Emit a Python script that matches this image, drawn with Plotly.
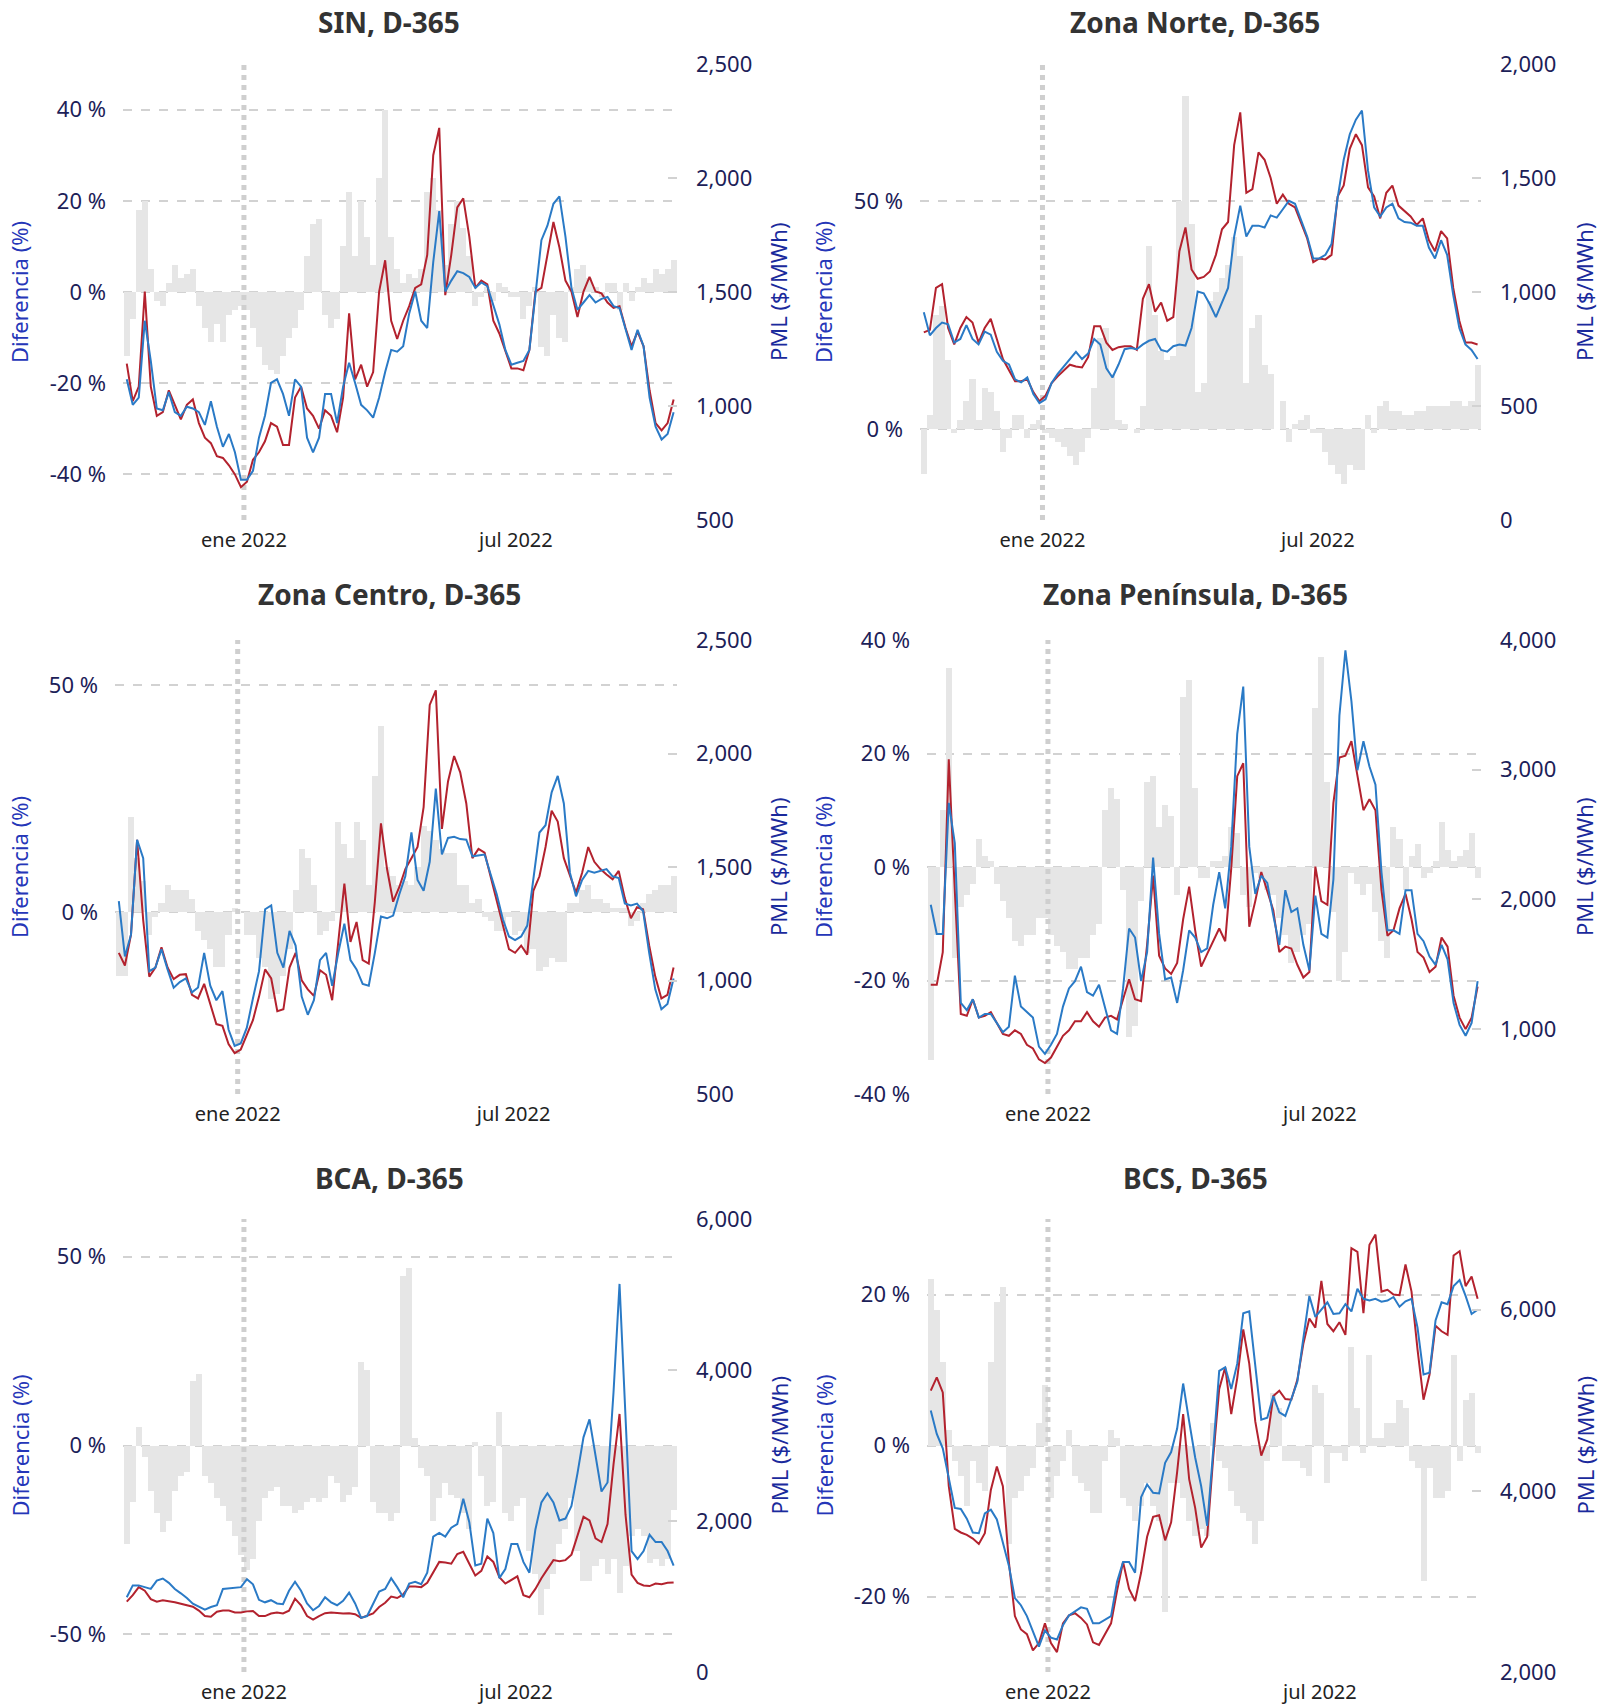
import pandas as pd
import plotly.graph_objects as go

W, H = 1608, 1706

# ---------------- data (4-day sampling) ----------------
dates = pd.date_range("2021-10-15", periods=92, freq="4D")

sin_dif = [-14, -6, 18, 20, 5, -2, -3, 2, 6, 3,
           4, 5, -3, -8, -11, -7, -11, -5, -4, -3,
           -4, -8, -12, -16, -17, -18, -14, -10, -8, -4,
           8, 15, 16, -5, -8, -6, 10, 22, 8, 20,
           12, 6, 25, 40, 12, 5, 2, 4, 3, 5,
           22, 25, 18, 6, 15, 20, 14, 8, -3, -1,
           1, -2, 2, 1, -1, -1, -6, -3, 1, -12,
           -14, -5, -10, -11, 1, 5, 6, 3, 1, -1,
           2, 2, -4, 2, -2, 1, 3, 2, 5, 4,
           5, 7]
sin_pml = [1186, 1021, 1085, 1502, 1085, 957, 973, 1069, 1005, 941,
           1005, 1029, 925, 861, 837, 780, 772, 740, 700, 644,
           668, 764, 797, 845, 925, 909, 829, 829, 1037, 1085,
           989, 957, 901, 981, 957, 885, 1037, 1406, 1117, 1181,
           1085, 1149, 1502, 1639, 1374, 1294, 1374, 1438, 1518, 1534,
           1663, 2100, 2220, 1486, 1663, 1871, 1911, 1743, 1518, 1550,
           1534, 1374, 1318, 1246, 1165, 1165, 1157, 1246, 1502, 1518,
           1663, 1807, 1695, 1550, 1502, 1390, 1502, 1566, 1502, 1494,
           1454, 1430, 1438, 1342, 1262, 1326, 1262, 1069, 925, 893,
           925, 1029]
sin_pml_365 = [1117, 1005, 1037, 1374, 1198, 989, 981, 1061, 973, 957,
               997, 989, 973, 917, 1021, 909, 821, 877, 797, 676,
               676, 716, 861, 957, 1101, 1117, 1053, 957, 1117, 1085,
               861, 797, 861, 1053, 1053, 925, 1085, 1190, 1101, 1005,
               981, 949, 1037, 1149, 1246, 1238, 1262, 1406, 1502, 1374,
               1342, 1631, 1855, 1502, 1550, 1591, 1583, 1566, 1518, 1542,
               1526, 1438, 1358, 1246, 1181, 1190, 1198, 1246, 1502, 1727,
               1791, 1887, 1919, 1743, 1518, 1422, 1454, 1486, 1454, 1470,
               1478, 1438, 1430, 1342, 1246, 1334, 1262, 1037, 909, 853,
               877, 973]

norte_dif = [-10, 3, 25, 27, 15, -1, 2, 6, 11, 2,
             9, 8, 4, -5, -2, 3, 3, -2, 1, 2,
             -1, -2, -3, -4, -6, -8, -5, -2, 9, 20,
             22, 12, 2, 1, 0, -1, 5, 40, 25, 17,
             15, 16, 50, 73, 45, 8, 10, 28, 30, 33,
             36, 42, 38, 10, 22, 25, 14, 12, 0, 6,
             -3, 1, 2, 3, -1, -1, -5, -8, -10, -12,
             -8, -9, -9, 3, -1, 5, 6, 4, 4, 3,
             3, 4, 4, 5, 5, 5, 5, 6, 6, 5,
             6, 14]
norte_pml = [823, 834, 1018, 1034, 842, 770, 842, 890, 866, 778,
             842, 882, 794, 706, 657, 609, 609, 617, 561, 521,
             545, 601, 630, 657, 681, 673, 669, 714, 850, 850,
             778, 746, 758, 762, 762, 746, 970, 1034, 914, 954,
             874, 890, 1179, 1283, 1099, 1058, 1066, 1090, 1163, 1275,
             1307, 1644, 1788, 1435, 1451, 1612, 1580, 1500, 1387, 1427,
             1387, 1371, 1307, 1235, 1131, 1147, 1143, 1163, 1419, 1467,
             1628, 1692, 1644, 1459, 1419, 1323, 1435, 1467, 1379, 1355,
             1331, 1294, 1323, 1227, 1179, 1267, 1235, 1018, 874, 778,
             778, 770]
norte_pml_365 = [911, 810, 842, 866, 858, 778, 794, 855, 794, 770,
                 826, 813, 738, 698, 682, 617, 604, 625, 553, 513,
                 529, 601, 641, 673, 706, 738, 706, 730, 794, 770,
                 665, 625, 682, 749, 754, 749, 770, 786, 794, 746,
                 738, 762, 770, 765, 842, 1002, 994, 946, 890, 954,
                 1018, 1243, 1379, 1243, 1291, 1291, 1283, 1336, 1326, 1363,
                 1400, 1387, 1315, 1243, 1147, 1147, 1163, 1211, 1411, 1580,
                 1692, 1756, 1796, 1532, 1371, 1331, 1371, 1387, 1323, 1307,
                 1304, 1291, 1291, 1195, 1147, 1227, 1163, 986, 842, 770,
                 746, 706]

centro_dif = [-14, -14, 21, 12, 7, -5, -1, 2, 6, 5,
              5, 5, 3, -4, -6, -8, -12, -12, -5, 1,
              0, -5, -5, -10, -12, -19, -18, -14, -8, 5,
              14, 12, 6, -5, -4, -2, 20, 15, 12, 20,
              16, 6, 30, 41, 10, 8, 6, 7, 6, 10,
              19, 18, 16, 14, 13, 13, 6, 6, 2, 3,
              -1, -2, -4, -4, -1, -5, -4, -9, -8, -13,
              -12, -10, -11, -11, 2, 2, 5, 6, 3, 3,
              2, 1, 1, 1, -3, -2, 2, 4, 5, 6,
              6, 8]
centro_pml = [1122, 1066, 1202, 1620, 1266, 1017, 1057, 1146, 1057, 1006,
              1025, 1028, 937, 921, 985, 897, 808, 800, 720, 680,
              696, 760, 825, 929, 1049, 1009, 865, 873, 1057, 1122,
              1001, 961, 932, 1045, 1025, 913, 1186, 1427, 1170, 1258,
              1090, 1074, 1347, 1692, 1491, 1347, 1411, 1491, 1539, 1588,
              1764, 2214, 2278, 1668, 1877, 1989, 1917, 1780, 1539, 1580,
              1563, 1459, 1355, 1250, 1138, 1122, 1154, 1114, 1395, 1459,
              1588, 1748, 1700, 1539, 1459, 1387, 1475, 1588, 1523, 1491,
              1467, 1446, 1483, 1363, 1274, 1323, 1314, 1154, 1017, 921,
              937, 1057]
centro_pml_365 = [1350, 1106, 1202, 1620, 1539, 1041, 1057, 1138, 1049, 968,
                  993, 1009, 948, 969, 1122, 977, 913, 953, 784, 712,
                  723, 792, 921, 1041, 1314, 1331, 1122, 1057, 1218, 1154,
                  929, 849, 913, 1090, 1122, 977, 1122, 1250, 1090, 1049,
                  985, 977, 1122, 1282, 1274, 1286, 1379, 1459, 1652, 1443,
                  1395, 1523, 1845, 1555, 1628, 1633, 1623, 1620, 1547, 1551,
                  1555, 1467, 1379, 1270, 1194, 1178, 1194, 1242, 1451, 1652,
                  1684, 1829, 1901, 1780, 1475, 1371, 1443, 1483, 1475, 1483,
                  1491, 1459, 1451, 1339, 1331, 1339, 1306, 1122, 961, 873,
                  897, 1009]

peninsula_dif = [-34, -12, 10, 35, -16, -7, -5, -3, 5, 2,
                 1, -3, -6, -9, -13, -14, -12, -12, -9, -9,
                 -12, -14, -15, -18, -18, -16, -16, -12, -10, 10,
                 14, 12, -4, -30, -28, -6, 15, 16, 7, 11,
                 9, -5, 30, 33, 14, -2, -2, 1, 1, 2,
                 7, 6, -5, -7, -1, -2, -4, -5, -9, -12,
                 -17, -15, -12, -10, 28, 37, 15, -8, -20, -15,
                 -1, -3, -5, -3, -8, -13, -16, 7, 5, -4,
                 2, 4, -2, -1, 1, 8, 3, 1, 2, 3,
                 6, -2]
peninsula_pml = [1342, 1342, 1594, 3080, 2071, 1117, 1103, 1230, 1089, 1103,
                 1131, 1047, 963, 949, 991, 963, 879, 851, 767, 739,
                 781, 865, 949, 991, 1061, 1061, 1131, 1061, 1019, 1089,
                 1103, 1075, 1230, 1384, 1230, 1216, 1650, 2183, 1566, 1468,
                 1426, 1510, 1847, 2099, 1762, 1482, 1580, 1678, 1776, 1678,
                 2239, 2950, 3050, 1790, 1987, 2211, 2071, 1917, 1594, 1636,
                 1622, 1496, 1398, 1440, 2253, 1987, 1959, 2744, 3094, 3108,
                 3220, 2968, 2688, 2772, 2688, 2071, 1720, 1762, 1931, 2043,
                 1847, 1594, 1552, 1440, 1482, 1706, 1636, 1258, 1089, 1000,
                 1089, 1328]
peninsula_pml_365 = [1959, 1734, 1734, 2744, 2435, 1202, 1146, 1230, 1089, 1117,
                     1117, 1047, 977, 1019, 1412, 1174, 1131, 1089, 865, 809,
                     879, 963, 1174, 1314, 1370, 1482, 1286, 1258, 1342, 1174,
                     991, 963, 1314, 1776, 1706, 1370, 1594, 2323, 1734, 1384,
                     1398, 1202, 1454, 1762, 1706, 1594, 1622, 1959, 2211, 1931,
                     2407, 3277, 3641, 2407, 2043, 2183, 2127, 1875, 1650, 2071,
                     1903, 1931, 1650, 1454, 2029, 1734, 1706, 2155, 3417, 3921,
                     3529, 2996, 3220, 3024, 2884, 2211, 1762, 1762, 1734, 2071,
                     2071, 1734, 1678, 1560, 1496, 1650, 1538, 1202, 1033, 949,
                     1047, 1370]

bca_dif = [-26, -15, 5, -3, -12, -18, -23, -20, -12, -8,
           -7, 17, 19, -8, -10, -14, -16, -20, -24, -29,
           -33, -30, -20, -14, -12, -11, -16, -16, -18, -17,
           -15, -14, -15, -14, -8, -10, -15, -13, -11, 22,
           20, -15, -18, -18, -20, -18, 45, 47, 2, -6,
           -8, -20, -14, -10, -13, -14, -18, -22, 1, -8,
           -16, -15, 9, -18, -20, -16, -14, -28, -34, -45,
           -38, -34, -26, -22, -14, -28, -36, -36, -32, -30,
           -34, -30, -39, -32, -24, -22, -24, -31, -30, -32,
           -30, -17]
bca_pml = [932, 1018, 1124, 1076, 966, 932, 951, 942, 923, 904,
           884, 865, 813, 741, 732, 798, 813, 813, 789, 789,
           803, 808, 741, 741, 775, 789, 775, 813, 971, 884,
           741, 693, 741, 779, 789, 779, 775, 779, 765, 717,
           741, 775, 861, 918, 999, 980, 1028, 1133, 1133, 1124,
           1181, 1315, 1458, 1449, 1434, 1563, 1592, 1434, 1277, 1339,
           1530, 1458, 1257, 1171, 1219, 1267, 1018, 990, 1100, 1243,
           1363, 1482, 1468, 1482, 1554, 1817, 2056, 2008, 1769, 1721,
           1960, 2749, 3418, 2080, 1291, 1181, 1147, 1138, 1171, 1162,
           1181, 1186]
bca_pml_365 = [990, 1147, 1147, 1124, 1100, 1210, 1238, 1181, 1100, 1042,
               980, 904, 865, 827, 861, 884, 1100, 1109, 1124, 1124,
               1229, 1162, 956, 923, 951, 908, 899, 1076, 1195, 1076,
               908, 818, 875, 990, 923, 884, 942, 1052, 908, 717,
               741, 908, 1066, 1100, 1243, 1124, 990, 1171, 1195, 1162,
               1315, 1793, 1841, 1793, 1912, 1960, 2295, 1984, 1410, 1434,
               2032, 1841, 1243, 1363, 1697, 1697, 1458, 1315, 1888, 2247,
               2367, 2247, 2008, 2032, 2199, 2630, 3108, 3347, 2845, 2391,
               2510, 3705, 5140, 3371, 1602, 1496, 1602, 1817, 1721, 1721,
               1602, 1410]

bcs_dif = [22, 18, 11, 2, -2, -4, -8, -2, -5, -6,
           11, 19, 21, -13, -7, -6, -4, -3, 3, 8,
           -7, -4, -2, 2, -4, -5, -6, -9, -9, -2,
           2, 1, -7, -8, -10, -8, -5, -8, -10, -22,
           -5, -5, -7, -10, -12, -11, -12, 3, -2, -3,
           -6, -8, -9, -10, -13, -10, -2, 7, 5, -2,
           -2, -2, -3, -4, 8, 7, -5, -1, -1, -2,
           13, 5, -1, 12, 1, 1, 3, 3, 6, 5,
           -2, -3, -18, -3, -7, -7, -6, 12, -2, 6,
           7, -1]
bcs_pml = [5105, 5252, 5085, 4050, 3580, 3540, 3513, 3473, 3413, 3532,
           4010, 4269, 4050, 3214, 2617, 2470, 2418, 2239, 2319, 2537,
           2319, 2219, 2537, 2625, 2649, 2597, 2525, 2327, 2299, 2418,
           2537, 2896, 3214, 2916, 2784, 3095, 3493, 3712, 3731, 3453,
           3652, 4209, 4846, 4129, 3811, 3373, 3493, 4368, 5124, 5363,
           4846, 5244, 5781, 5403, 4766, 4388, 4567, 5045, 5105, 5013,
           5005, 5224, 5622, 5901, 5801, 6318, 5841, 5761, 5861, 5721,
           6677, 6637, 5960, 6716, 6828, 6199, 6219, 6167, 6159, 6498,
           6199, 5562, 5005, 5284, 5821, 5761, 5721, 6597, 6645, 6259,
           6366, 6119]
bcs_pml_365 = [4886, 4627, 4468, 4149, 3811, 3799, 3692, 3540, 3532, 3751,
               3791, 3684, 3413, 3174, 2816, 2737, 2617, 2450, 2279, 2458,
               2378, 2358, 2517, 2625, 2673, 2713, 2697, 2537, 2537, 2577,
               2617, 2995, 3214, 3214, 3095, 3930, 4070, 3978, 3970, 4309,
               4428, 4687, 5184, 4766, 4368, 4050, 3612, 4448, 5323, 5363,
               5124, 5403, 5960, 5980, 5403, 4786, 4806, 5045, 4866, 4826,
               5013, 5204, 5682, 6151, 5920, 6000, 6080, 5952, 5960, 6060,
               5980, 6231, 6119, 6100, 6119, 6088, 6100, 6139, 6032, 6092,
               6119, 5801, 5284, 5304, 5881, 6080, 6060, 6259, 6326, 6151,
               5952, 6000]

titles = ["SIN, D-365", "Zona Norte, D-365", "Zona Centro, D-365",
          "Zona Península, D-365", "BCA, D-365", "BCS, D-365"]
x_ticks = ["2022-01-01", "2022-07-01"]
x_tick_text = ["ene 2022", "jul 2022"]

# ---------------- styling / layout ----------------
RED = "#b3222e"
BLUE = "#2a7ac6"
BAR = "#e6e6e6"
NAVY = "#1c2158"
FONT = "Noto Sans"

panels = [
    dict(dif=sin_dif, pml=sin_pml, prev=sin_pml_365, px=(123, 677), py=(64, 520),
         yl=(-50, 50), ylt=[-40, -20, 0, 20, 40], yr=(500, 2500), yrt=[500, 1000, 1500, 2000, 2500]),
    dict(dif=norte_dif, pml=norte_pml, prev=norte_pml_365, px=(920, 1481), py=(64, 520),
         yl=(-20, 80), ylt=[0, 50], yr=(0, 2000), yrt=[0, 500, 1000, 1500, 2000]),
    dict(dif=centro_dif, pml=centro_pml, prev=centro_pml_365, px=(115, 677), py=(640, 1094),
         yl=(-40, 60), ylt=[0, 50], yr=(500, 2500), yrt=[500, 1000, 1500, 2000, 2500]),
    dict(dif=peninsula_dif, pml=peninsula_pml, prev=peninsula_pml_365, px=(927, 1481), py=(640, 1094),
         yl=(-40, 40), ylt=[-40, -20, 0, 20, 40], yr=(500, 4000), yrt=[1000, 2000, 3000, 4000]),
    dict(dif=bca_dif, pml=bca_pml, prev=bca_pml_365, px=(123, 677), py=(1219, 1672),
         yl=(-60, 60), ylt=[-50, 0, 50], yr=(0, 6000), yrt=[0, 2000, 4000, 6000]),
    dict(dif=bcs_dif, pml=bcs_pml, prev=bcs_pml_365, px=(927, 1481), py=(1219, 1672),
         yl=(-30, 30), ylt=[-20, 0, 20], yr=(2000, 7000), yrt=[2000, 4000, 6000]),
]

title_pos = [(389, 22), (1195, 22), (389, 594), (1195, 594), (389, 1178), (1195, 1178)]
dif_title_x = [19, 823, 19, 823, 19, 823]
pml_title_x = [778, 1584, 778, 1584, 778, 1584]

X_RANGE = ["2021-10-12 12:00", "2022-10-16 06:00"]
BAR_W = 4 * 86400000

fig = go.Figure()
layout = dict(width=W, height=H, margin=dict(l=0, r=0, t=0, b=0, pad=0, autoexpand=False),
              template="none",
              paper_bgcolor="white", plot_bgcolor="white", showlegend=False,
              barmode="overlay", bargap=0, font=dict(family=FONT, color=NAVY),
              annotations=[])


def ax_name(prefix, i):
    return prefix if i == 1 else f"{prefix}{i}"


for p, cfg in enumerate(panels):
    xi = p + 1
    yli = 2 * p + 1
    yri = 2 * p + 2
    xref = ax_name("x", xi)
    ylref = ax_name("y", yli)
    yrref = ax_name("y", yri)

    fig.add_trace(go.Bar(x=dates, y=cfg["dif"], width=BAR_W, marker=dict(color=BAR, line=dict(width=0)),
                         xaxis=xref, yaxis=ylref, name="Diferencia (%)"))
    fig.add_trace(go.Scatter(x=[x_ticks[0], x_ticks[0]], y=list(cfg["yl"]), mode="lines",
                             line=dict(color="#cfcfcf", width=5, dash="dot"),
                             xaxis=xref, yaxis=ylref, hoverinfo="skip"))
    fig.add_trace(go.Scatter(x=dates, y=cfg["pml"], mode="lines", line=dict(color=RED, width=2),
                             xaxis=xref, yaxis=yrref, name="PML"))
    fig.add_trace(go.Scatter(x=dates, y=cfg["prev"], mode="lines", line=dict(color=BLUE, width=2),
                             xaxis=xref, yaxis=yrref, name="PML D-365"))

    x0, x1 = cfg["px"]
    y0, y1 = cfg["py"]
    xdom = [x0 / W, x1 / W]
    ydom = [1 - y1 / H, 1 - y0 / H]

    layout[ax_name("xaxis", xi)] = dict(
        domain=xdom, anchor=ylref, type="date", range=X_RANGE, automargin=False,
        tickvals=x_ticks, ticktext=x_tick_text, showgrid=False, zeroline=False,
        showline=False, ticks="", tickfont=dict(size=20, color="#222222", family=FONT),
        ticklabelstandoff=6)
    layout[ax_name("yaxis", yli)] = dict(
        domain=ydom, anchor=xref, range=list(cfg["yl"]), automargin=False,
        tickvals=cfg["ylt"], ticktext=[f"{v} %" for v in cfg["ylt"]],
        showgrid=True, gridcolor="#d2d2d2", gridwidth=2, griddash="dash",
        zeroline=False, showline=False, ticks="",
        tickfont=dict(size=22, color=NAVY, family=FONT), ticklabelstandoff=16)
    layout[ax_name("yaxis", yri)] = dict(
        domain=ydom, anchor=xref, overlaying=ylref, side="right", range=list(cfg["yr"]),
        automargin=False,
        tickvals=cfg["yrt"], ticktext=[f"{v:,}" for v in cfg["yrt"]],
        showgrid=False, zeroline=False, showline=False,
        ticks="inside", ticklen=9, tickwidth=2, tickcolor="#d2d2d2",
        tickfont=dict(size=22, color=NAVY, family=FONT), ticklabelstandoff=18)

    tx, ty = title_pos[p]
    layout["annotations"].append(dict(
        text=f"<b>{titles[p]}</b>", x=tx / W, y=1 - ty / H, xref="paper", yref="paper",
        xanchor="center", yanchor="middle", showarrow=False,
        font=dict(size=28, color="#333333", family=FONT)))
    cy = (y0 + y1) / 2
    layout["annotations"].append(dict(
        text="Diferencia (%)", x=dif_title_x[p] / W, y=1 - cy / H, xref="paper", yref="paper",
        xanchor="center", yanchor="middle", showarrow=False, textangle=-90,
        font=dict(size=22, color="#2536b8", family=FONT)))
    layout["annotations"].append(dict(
        text="PML ($/MWh)", x=pml_title_x[p] / W, y=1 - cy / H, xref="paper", yref="paper",
        xanchor="center", yanchor="middle", showarrow=False, textangle=-90,
        font=dict(size=22, color="#1a2a9c", family=FONT)))

fig.update_layout(**layout)
fig.write_html("out.html", config={"displayModeBar": False},
               post_script="document.body.style.margin='0';")
